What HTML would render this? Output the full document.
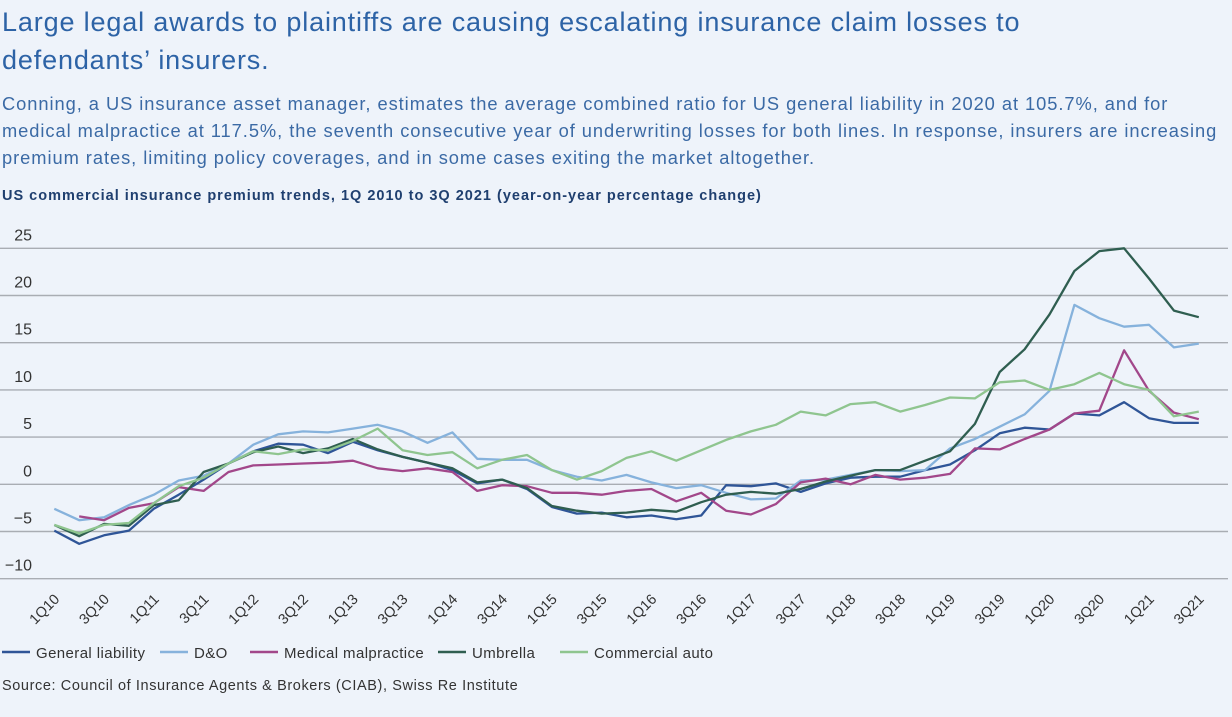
<!DOCTYPE html>
<html><head><meta charset="utf-8"><style>
body{margin:0;width:1232px;height:717px;background:#eef3fa;font-family:"Liberation Sans",sans-serif;overflow:hidden;position:relative}
.t{position:absolute;left:2px;white-space:nowrap}
</style></head><body>
<div class="t" style="top:3px;font-size:27px;line-height:38px;color:#2d63a6;letter-spacing:0.85px;">Large legal awards to plaintiffs are causing escalating insurance claim losses to<br>defendants’ insurers.</div>
<div class="t" style="top:90px;font-size:18.3px;line-height:27px;color:#3b6aa5;letter-spacing:0.95px;">Conning, a US insurance asset manager, estimates the average combined ratio for US general liability in 2020 at 105.7%, and for<br>medical malpractice at 117.5%, the seventh consecutive year of underwriting losses for both lines. In response, insurers are increasing<br>premium rates, limiting policy coverages, and in some cases exiting the market altogether.</div>
<div class="t" style="top:188px;font-size:14.5px;font-weight:bold;color:#1f3f6f;letter-spacing:1px;">US commercial insurance premium trends, 1Q 2010 to 3Q 2021 (year-on-year percentage change)</div>
<svg id="chart" width="1232" height="717" style="position:absolute;left:0;top:0" xmlns="http://www.w3.org/2000/svg"></svg>
<div class="t" style="top:678px;font-size:14.5px;color:#333;letter-spacing:0.6px;">Source: Council of Insurance Agents &amp; Brokers (CIAB), Swiss Re Institute</div>
<script>
const yTicks=[25,20,15,10,5,0,-5,-10];
const quarters=[];for(let y=10;y<=21;y++)for(let q=1;q<=4;q++)quarters.push(q+"Q"+y);
const categories=quarters.slice(0,47);
const generalLiability=[-4.9,-6.3,-5.4,-4.9,-2.6,-1.1,0.5,2.2,3.5,4.3,4.2,3.3,4.5,3.6,2.9,2.3,1.5,0.1,0.5,-0.5,-2.4,-3.1,-3.0,-3.5,-3.3,-3.7,-3.3,-0.1,-0.2,0.1,-0.8,0.1,0.7,0.8,0.8,1.5,2.1,3.6,5.4,6.0,5.8,7.5,7.3,8.7,7.0,6.5,6.5];
const dAndO=[-2.6,-3.8,-3.5,-2.2,-1.1,0.4,0.9,2.2,4.2,5.3,5.6,5.5,5.9,6.3,5.6,4.4,5.5,2.7,2.6,2.6,1.5,0.8,0.4,1.0,0.2,-0.4,-0.1,-0.9,-1.6,-1.5,0.4,0.5,1.0,1.5,1.4,1.5,3.8,4.8,6.1,7.4,9.9,19.0,17.6,16.7,16.9,14.5,14.9];
const medical=[null,-3.4,-3.8,-2.5,-2.0,-0.3,-0.7,1.3,2.0,2.1,2.2,2.3,2.5,1.7,1.4,1.7,1.3,-0.7,-0.1,-0.2,-0.9,-0.9,-1.1,-0.7,-0.5,-1.8,-0.9,-2.8,-3.2,-2.1,0.2,0.6,0.0,1.0,0.5,0.7,1.1,3.8,3.7,4.8,5.8,7.5,7.8,14.2,9.9,7.6,6.9];
const umbrella=[-4.3,-5.5,-4.2,-4.4,-2.2,-1.7,1.3,2.2,3.4,4.0,3.3,3.8,4.8,3.7,2.9,2.3,1.7,0.2,0.5,-0.4,-2.3,-2.8,-3.1,-3.0,-2.7,-2.9,-1.9,-1.1,-0.8,-1.0,-0.5,0.3,0.9,1.5,1.5,2.5,3.5,6.4,11.9,14.3,18.0,22.6,24.7,25.0,21.8,18.4,17.7];
const commercialAuto=[-4.3,-5.2,-4.3,-4.1,-2.0,-0.2,0.7,2.2,3.5,3.2,3.7,3.6,4.6,5.9,3.6,3.1,3.4,1.7,2.6,3.1,1.5,0.5,1.4,2.8,3.5,2.5,3.6,4.7,5.6,6.3,7.7,7.3,8.5,8.7,7.7,8.4,9.2,9.1,10.8,11.0,10.0,10.6,11.8,10.6,10.0,7.2,7.7];
const seriesNames=["General liability","D&O","Medical malpractice","Umbrella","Commercial auto"];
const seriesData=[generalLiability,dAndO,medical,umbrella,commercialAuto];
const colors=["#2f5597","#86b2dc","#a2478a","#2f5e50","#8fc58f"];
const svgNS="http://www.w3.org/2000/svg";
const svg=document.getElementById('chart');
const X0=54.3,XS=24.88,Y0=484.3,YS=9.44;
const xScale=i=>X0+i*XS, yScale=v=>Y0-v*YS;
function mk(tag,attrs){const e=document.createElementNS(svgNS,tag);for(const k in attrs)e.setAttribute(k,attrs[k]);svg.appendChild(e);return e;}
yTicks.forEach(v=>{
  const l=mk('line',{x1:0,x2:1228,y1:yScale(v),y2:yScale(v),stroke:'#a9adb3','stroke-width':1.4});
  
  
  const t=mk('text',{x:32,y:yScale(v)-8,'text-anchor':'end','font-size':16,fill:'#333','font-family':'Liberation Sans'});
  t.textContent=(v<0?'\u2212':'')+Math.abs(v);
  
  
});
categories.forEach((c,i)=>{
  if(i%2)return;
  const x=xScale(i)+6,y=600;
  const t=mk('text',{x:x,y:y,'text-anchor':'end','font-size':14.5,fill:'#333','font-family':'Liberation Sans',transform:`rotate(-45 ${x} ${y})`});
  t.textContent=c;
  
  
});
seriesData.forEach((d,s)=>{
  let p='';d.forEach((v,i)=>{if(v===null)return;p+=(p?'L':'M')+xScale(i).toFixed(1)+' '+yScale(v).toFixed(1);});
  const path=mk('path',{d:p,fill:'none',stroke:colors[s],'stroke-width':2.3,'stroke-linejoin':'round'});
  
  
});
const legX=[2,160,250,438,560];
seriesNames.forEach((n,s)=>{
  const l=mk('line',{x1:legX[s],x2:legX[s]+28,y1:652,y2:652,stroke:colors[s],'stroke-width':2.5});
  
  
  const t=mk('text',{x:legX[s]+34,y:658,'font-size':15,fill:'#333','font-family':'Liberation Sans','letter-spacing':0.4});
  t.textContent=n;
  
  
});
</script>
</body></html>
